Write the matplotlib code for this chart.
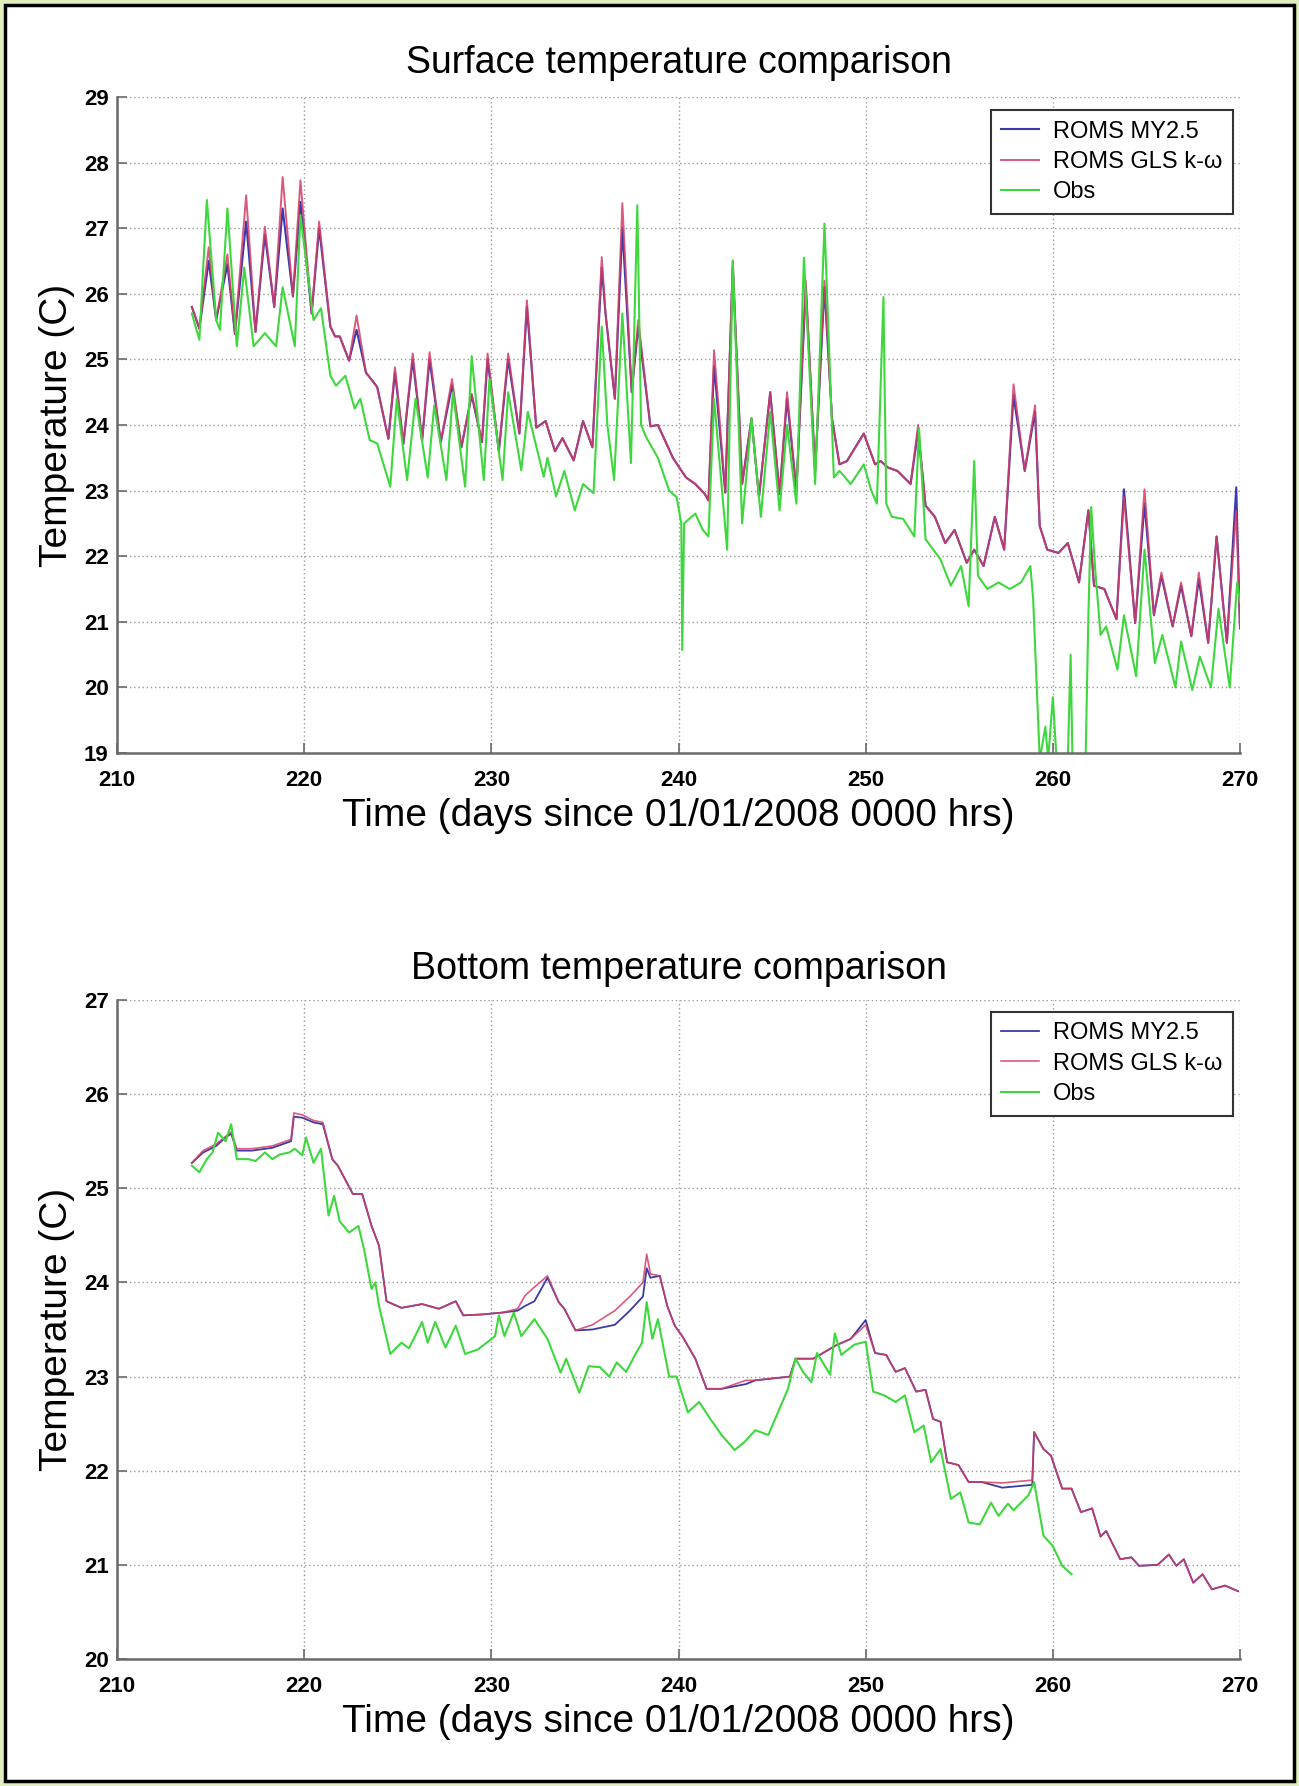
import matplotlib
matplotlib.use("Agg")
import matplotlib.pyplot as plt
from matplotlib.patches import Rectangle

plt.rcParams['font.family'] = ['Liberation Sans', 'DejaVu Sans']

# ---- surface data ----
surf_model_days = [214.0, 214.4, 214.9, 215.3, 215.9, 216.3, 216.9, 217.4, 217.9, 218.4,
                   218.85, 219.4, 219.8, 220.4, 220.8, 221.4, 221.65, 221.9, 222.4, 222.8,
                   223.3, 223.9, 224.5, 224.85, 225.3, 225.8, 226.3, 226.7, 227.3, 227.9,
                   228.4, 228.95, 229.5, 229.8, 230.4, 230.9, 231.5, 231.9, 232.4, 232.9,
                   233.4, 233.8, 234.4, 234.9, 235.4, 235.9, 236.1, 236.6, 237.0, 237.5,
                   237.85, 238.5, 238.9, 239.7, 240.4, 240.9, 241.4, 241.6, 241.9, 242.5,
                   242.9, 243.4, 243.9, 244.3, 244.9, 245.4, 245.8, 246.3, 246.8, 247.3,
                   247.8, 248.2, 248.6, 249.0, 249.9, 250.5, 250.8, 251.2, 251.7, 252.4,
                   252.8, 253.2, 253.7, 254.25, 254.75, 255.4, 255.8, 256.3, 256.9, 257.4,
                   257.9, 258.5, 259.05, 259.3, 259.7, 260.3, 260.8, 261.4, 261.9, 262.2,
                   262.75, 263.4, 263.8, 264.4, 264.9, 265.4, 265.8, 266.4, 266.85, 267.4,
                   267.8, 268.3, 268.75, 269.3, 269.8, 270.0]
surf_my25 = [25.80, 25.47, 26.50, 25.60, 26.45, 25.39, 27.10, 25.42, 26.90, 25.80,
             27.30, 25.96, 27.40, 25.70, 27.00, 25.50, 25.35, 25.35, 24.98, 25.45,
             24.80, 24.58, 23.79, 24.80, 23.71, 25.00, 23.76, 25.00, 23.74, 24.60,
             23.66, 24.45, 23.74, 25.00, 23.60, 25.00, 23.87, 25.80, 23.96, 24.06,
             23.60, 23.80, 23.46, 24.06, 23.66, 26.40, 25.70, 24.40, 27.00, 24.50,
             25.50, 23.98, 24.00, 23.50, 23.20, 23.10, 22.95, 22.85, 24.90, 22.97,
             26.40, 23.10, 24.10, 22.90, 24.50, 22.95, 24.40, 23.00, 26.10, 23.30,
             26.10, 24.10, 23.40, 23.45, 23.87, 23.40, 23.45, 23.35, 23.30, 23.10,
             23.90, 22.77, 22.60, 22.20, 22.40, 21.90, 22.10, 21.85, 22.60, 22.10,
             24.45, 23.30, 24.20, 22.46, 22.10, 22.05, 22.20, 21.60, 22.70, 21.55,
             21.50, 21.04, 23.02, 20.98, 22.80, 21.10, 21.70, 20.93, 21.55, 20.78,
             21.65, 20.68, 22.30, 20.68, 23.05, 20.90]
surf_gls = [25.80, 25.47, 26.71, 25.60, 26.60, 25.39, 27.50, 25.42, 27.02, 25.80,
            27.78, 25.96, 27.73, 25.70, 27.10, 25.50, 25.35, 25.35, 24.98, 25.67,
            24.80, 24.58, 23.79, 24.88, 23.71, 25.09, 23.76, 25.11, 23.74, 24.70,
            23.66, 24.48, 23.74, 25.09, 23.60, 25.09, 23.87, 25.90, 23.96, 24.06,
            23.60, 23.80, 23.46, 24.06, 23.66, 26.56, 25.70, 24.40, 27.38, 24.50,
            25.60, 23.98, 24.00, 23.50, 23.20, 23.10, 22.95, 22.85, 25.14, 22.97,
            26.51, 23.10, 24.10, 22.90, 24.50, 22.95, 24.50, 23.00, 26.20, 23.30,
            26.20, 24.10, 23.40, 23.45, 23.87, 23.40, 23.45, 23.35, 23.30, 23.10,
            24.00, 22.77, 22.60, 22.20, 22.40, 21.90, 22.10, 21.85, 22.60, 22.10,
            24.62, 23.30, 24.30, 22.46, 22.10, 22.05, 22.20, 21.60, 22.70, 21.55,
            21.50, 21.04, 22.90, 20.98, 23.02, 21.10, 21.75, 20.93, 21.60, 20.78,
            21.75, 20.68, 22.30, 20.68, 22.70, 20.90]

surf_obs_days = [214.0, 214.4, 214.8, 215.3, 215.5, 215.9, 216.4, 216.8, 217.3, 217.9,
                 218.5, 218.85, 219.5, 219.8, 220.5, 220.9, 221.4, 221.7, 222.2, 222.7,
                 223.0, 223.5, 223.9, 224.6, 224.95, 225.5, 225.95, 226.6, 226.95, 227.6,
                 227.95, 228.6, 228.95, 229.6, 229.9, 230.6, 230.9, 231.6, 231.95, 232.8,
                 233.0, 233.46, 233.9, 234.46, 234.9, 235.46, 235.9, 236.2, 236.56, 237.0,
                 237.46, 237.8, 238.0, 238.3, 238.9, 239.5, 239.9, 240.15, 240.2, 240.3,
                 240.9, 241.3, 241.6, 241.9, 242.6, 242.9, 243.4, 243.9, 244.4, 244.9,
                 245.4, 245.8, 246.3, 246.7, 247.3, 247.8, 248.3, 248.6, 249.2, 249.9,
                 250.3, 250.6, 250.95, 251.1, 251.4, 252.0, 252.6, 252.85, 253.2, 254.0,
                 254.55, 255.1, 255.5, 255.8, 256.0, 256.5, 257.1, 257.7, 258.3, 258.8,
                 258.95, 259.1, 259.3, 259.6, 259.75, 260.0, 260.2, 260.8, 260.95, 261.05,
                 261.75, 261.9, 262.05, 262.25, 262.55, 262.85, 263.45, 263.8, 264.45, 264.9,
                 265.45, 265.85, 266.55, 266.85, 267.45, 267.85, 268.45, 268.85, 269.45, 269.85,
                 270.0]
surf_obs = [25.70, 25.30, 27.43, 25.60, 25.45, 27.30, 25.20, 26.40, 25.20, 25.40,
            25.20, 26.10, 25.20, 27.20, 25.60, 25.78, 24.75, 24.60, 24.75, 24.25,
            24.40, 23.77, 23.72, 23.06, 24.40, 23.16, 24.40, 23.20, 24.30, 23.16,
            24.50, 23.06, 25.05, 23.16, 24.70, 23.16, 24.50, 23.31, 24.20, 23.21,
            23.50, 22.91, 23.30, 22.70, 23.10, 22.96, 25.50, 24.00, 23.16, 25.70,
            23.42, 27.35, 24.00, 23.80, 23.50, 23.00, 22.90, 22.50, 20.57, 22.50,
            22.65, 22.40, 22.30, 24.40, 22.10, 26.50, 22.50, 24.10, 22.60, 24.20,
            22.70, 24.00, 22.80, 26.55, 23.10, 27.07, 23.20, 23.30, 23.10, 23.40,
            23.00, 22.80, 25.95, 22.80, 22.60, 22.57, 22.30, 23.95, 22.26, 21.95,
            21.55, 21.85, 21.24, 23.45, 21.70, 21.50, 21.60, 21.50, 21.60, 21.85,
            21.34, 20.30, 18.90, 19.40, 18.90, 19.85, 18.90, 18.90, 20.50, 18.90,
            18.90, 21.10, 22.75, 21.85, 20.80, 20.93, 20.27, 21.10, 20.17, 22.10,
            20.37, 20.80, 20.00, 20.70, 19.96, 20.47, 20.00, 21.20, 20.00, 21.60,
            21.30]

# ---- bottom data ----
bot_model_days = [214.0, 214.6, 215.3, 215.8, 216.1, 216.4, 217.2, 218.3, 219.3, 219.45,
                  219.9, 220.5, 221.0, 221.5, 221.8, 222.6, 223.1, 223.6, 224.0, 224.4,
                  225.2, 226.3, 227.2, 228.1, 228.5, 229.5, 230.6, 231.4, 231.8, 232.3,
                  233.0, 233.6, 233.9, 234.5, 235.4, 236.6, 237.4, 238.1, 238.3, 238.5,
                  239.0, 239.4, 239.8, 240.2, 240.9, 241.5, 242.3, 243.6, 244.1, 245.95,
                  246.25, 247.2, 248.4, 249.2, 250.0, 250.5, 251.1, 251.6, 252.1, 252.7,
                  253.2, 253.6, 254.0, 254.35, 254.96, 255.5, 256.2, 257.3, 258.9, 259.0,
                  259.5, 259.9, 260.5, 261.0, 261.5, 262.1, 262.55, 262.85, 263.6, 264.2,
                  264.6, 265.6, 266.2, 266.6, 267.0, 267.5, 268.0, 268.5, 269.2, 269.9]
bot_my25 = [25.27, 25.38, 25.45, 25.54, 25.58, 25.40, 25.40, 25.43, 25.50, 25.76,
            25.75, 25.70, 25.68, 25.31, 25.24, 24.94, 24.94, 24.60, 24.39, 23.80,
            23.73, 23.77, 23.72, 23.80, 23.65, 23.66, 23.68, 23.70, 23.75, 23.80,
            24.05, 23.79, 23.72, 23.49, 23.50, 23.55, 23.70, 23.85, 24.15, 24.05,
            24.07, 23.75, 23.54, 23.43, 23.19, 22.87, 22.87, 22.92, 22.96, 23.00,
            23.19, 23.19, 23.33, 23.40, 23.60, 23.25, 23.23, 23.05, 23.09, 22.84,
            22.86, 22.55, 22.52, 22.09, 22.06, 21.88, 21.88, 21.82, 21.85, 22.41,
            22.23, 22.16, 21.81, 21.81, 21.56, 21.60, 21.30, 21.36, 21.06, 21.08,
            20.99, 21.00, 21.11, 20.99, 21.06, 20.81, 20.90, 20.74, 20.78, 20.72]
bot_gls = [25.27, 25.40, 25.47, 25.55, 25.60, 25.42, 25.42, 25.45, 25.52, 25.80,
           25.78, 25.72, 25.70, 25.31, 25.24, 24.94, 24.94, 24.60, 24.39, 23.80,
           23.73, 23.77, 23.72, 23.80, 23.65, 23.66, 23.68, 23.72, 23.86, 23.95,
           24.07, 23.79, 23.72, 23.49, 23.55, 23.70, 23.85, 24.00, 24.30, 24.09,
           24.07, 23.75, 23.54, 23.43, 23.19, 22.87, 22.87, 22.96, 22.96, 23.00,
           23.19, 23.19, 23.33, 23.40, 23.55, 23.25, 23.23, 23.05, 23.09, 22.84,
           22.86, 22.55, 22.52, 22.09, 22.06, 21.88, 21.88, 21.87, 21.90, 22.41,
           22.23, 22.16, 21.81, 21.81, 21.56, 21.60, 21.30, 21.36, 21.06, 21.08,
           20.99, 21.00, 21.11, 20.99, 21.06, 20.81, 20.90, 20.74, 20.78, 20.72]

bot_obs_days = [214.0, 214.4, 214.8, 215.1, 215.4, 215.8, 216.1, 216.4, 217.0, 217.4,
                217.9, 218.3, 218.7, 219.2, 219.5, 219.9, 220.1, 220.5, 220.9, 221.3,
                221.6, 221.9, 222.4, 222.9, 223.2, 223.6, 223.8, 224.0, 224.6, 225.2,
                225.6, 226.3, 226.6, 227.0, 227.55, 228.1, 228.6, 229.3, 230.2, 230.4,
                230.7, 231.2, 231.6, 232.3, 233.0, 233.7, 234.0, 234.7, 235.2, 235.8,
                236.3, 236.7, 237.2, 237.65, 238.05, 238.3, 238.6, 238.9, 239.5, 239.9,
                240.5, 241.1, 241.7, 242.3, 243.0, 243.5, 244.1, 244.8, 245.4, 245.85,
                246.25, 246.65, 247.1, 247.4, 247.8, 248.1, 248.35, 248.7, 249.4, 250.0,
                250.4, 251.0, 251.6, 252.1, 252.6, 253.1, 253.5, 254.0, 254.55, 255.06,
                255.5, 256.1, 256.7, 257.1, 257.6, 257.9, 258.7, 259.0, 259.5, 260.0,
                260.5, 261.0]
bot_obs = [25.24, 25.17, 25.31, 25.38, 25.59, 25.50, 25.68, 25.31, 25.31, 25.29,
           25.38, 25.31, 25.36, 25.38, 25.42, 25.35, 25.54, 25.27, 25.42, 24.71,
           24.92, 24.65, 24.53, 24.60, 24.35, 23.93, 24.00, 23.75, 23.24, 23.36,
           23.30, 23.58, 23.36, 23.58, 23.31, 23.54, 23.24, 23.29, 23.43, 23.65,
           23.43, 23.68, 23.43, 23.61, 23.40, 23.04, 23.19, 22.83, 23.11, 23.10,
           23.00, 23.15, 23.05, 23.22, 23.36, 23.79, 23.40, 23.61, 23.00, 23.00,
           22.62, 22.73, 22.55, 22.38, 22.22, 22.30, 22.43, 22.38, 22.66, 22.87,
           23.19, 23.05, 22.94, 23.25, 23.12, 23.02, 23.46, 23.23, 23.34, 23.37,
           22.84, 22.80, 22.73, 22.80, 22.41, 22.48, 22.09, 22.23, 21.70, 21.77,
           21.45, 21.43, 21.66, 21.52, 21.65, 21.58, 21.74, 21.88, 21.31, 21.20,
           20.99, 20.90]

labels = ['ROMS MY2.5', 'ROMS GLS k-ω', 'Obs']
c_my, c_gls, c_obs = '#3a3aa8', '#d43c66', '#3ed83e'

W, H = 1299, 1786
fig = plt.figure(figsize=(W / 100, H / 100), dpi=100)
fig.patch.set_facecolor('#e1eebe')
# white page with black frame
fig.add_artist(Rectangle((5 / W, 5 / H), 1 - 10 / W, 1 - 10 / H, transform=fig.transFigure,
                         facecolor='white', edgecolor='black', lw=2.5, zorder=-1))


def style_axes(ax, title, ylim, tpad):
    ax.set_xlim(210, 270)
    ax.set_ylim(*ylim)
    ax.set_xticks(range(210, 271, 10))
    ax.set_yticks(range(ylim[0], ylim[1] + 1))
    ax.grid(True, color='#9a9a9a', linestyle=(0, (1, 2)), lw=1.0)
    for s in ['top', 'right']:
        ax.spines[s].set_visible(False)
    for s in ['left', 'bottom']:
        ax.spines[s].set_color('#6a6a6a')
        ax.spines[s].set_linewidth(1.8)
    ax.tick_params(direction='in', length=7, width=1.2, color='#6a6a6a', labelsize=16)
    ax.tick_params(axis='x', pad=12)
    ax.tick_params(axis='y', pad=6)
    for t in ax.get_xticklabels() + ax.get_yticklabels():
        t.set_fontweight('bold')
    ax.set_title(title, fontsize=27, pad=tpad)
    ax.set_xlabel('Time (days since 01/01/2008 0000 hrs)', fontsize=28, labelpad=5)
    ax.set_ylabel('Temperature (C)', fontsize=28, labelpad=6)


def add_legend(ax, ytop):
    leg = ax.legend(labels, loc='upper right', bbox_to_anchor=(0.994, ytop), fontsize=17,
                    handlelength=1.6, labelspacing=0.35, handletextpad=0.6, borderpad=0.45,
                    fancybox=False, framealpha=1, borderaxespad=0)
    leg.get_frame().set_edgecolor('#333333')
    leg.get_frame().set_linewidth(1.5)


ax1 = fig.add_axes([117 / W, 1 - 753 / H, 1123 / W, 656 / H])
ax1.plot(surf_model_days, surf_my25, color=c_my, lw=1.5)
ax1.plot(surf_model_days, surf_gls, color=c_gls, lw=1.4, alpha=0.85)
ax1.plot(surf_obs_days, surf_obs, color=c_obs, lw=1.5)
style_axes(ax1, 'Surface temperature comparison', (19, 29), 17)
add_legend(ax1, 0.98)

ax2 = fig.add_axes([117 / W, 1 - 1659 / H, 1123 / W, 659 / H])
ax2.plot(bot_model_days, bot_my25, color=c_my, lw=1.3)
ax2.plot(bot_model_days, bot_gls, color=c_gls, lw=1.2, alpha=0.85)
ax2.plot(bot_obs_days, bot_obs, color=c_obs, lw=1.5)
style_axes(ax2, 'Bottom temperature comparison', (20, 27), 15)
add_legend(ax2, 0.982)

fig.savefig('out.png', dpi=100, facecolor=fig.get_facecolor())
